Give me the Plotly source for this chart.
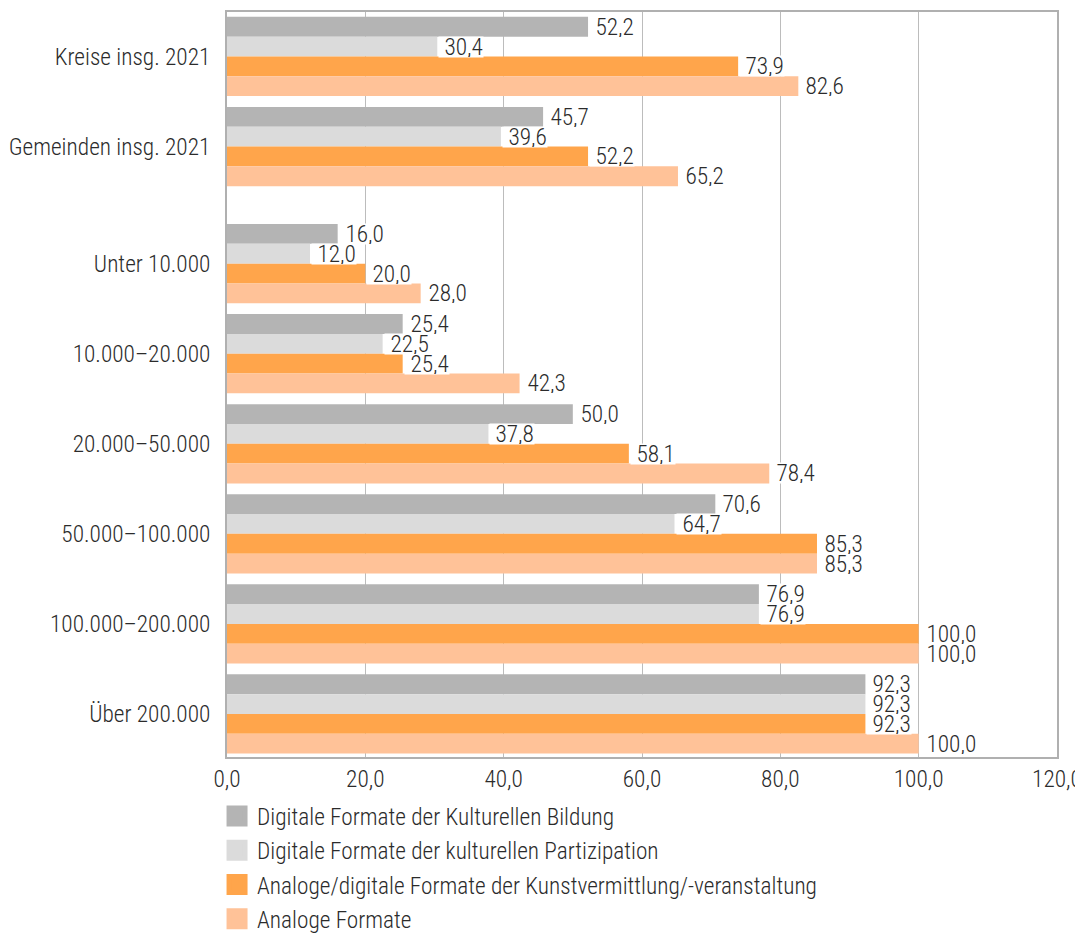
import plotly.graph_objects as go

categories = ["Kreise insg. 2021", "Gemeinden insg. 2021", "Unter 10.000", "10.000–20.000",
              "20.000–50.000", "50.000–100.000", "100.000–200.000", "Über 200.000"]
series_names = ["Digitale Formate der Kulturellen Bildung",
                "Digitale Formate der kulturellen Partizipation",
                "Analoge/digitale Formate der Kunstvermittlung/-veranstaltung",
                "Analoge Formate"]
digital_bildung = [52.2, 45.7, 16.0, 25.4, 50.0, 70.6, 76.9, 92.3]
digital_partizipation = [30.4, 39.6, 12.0, 22.5, 37.8, 64.7, 76.9, 92.3]
analog_digital = [73.9, 52.2, 20.0, 25.4, 58.1, 85.3, 100.0, 92.3]
analog = [82.6, 65.2, 28.0, 42.3, 78.4, 85.3, 100.0, 100.0]
x_ticks = [0, 20, 40, 60, 80, 100, 120]
x_tick_labels = ["0,0", "20,0", "40,0", "60,0", "80,0", "100,0", "120,0"]

colors = ["#b4b4b4", "#dbdbdb", "#ffa54b", "#ffc298"]
series = [digital_bildung, digital_partizipation, analog_digital, analog]

FONT = "Roboto Condensed"
FS = 23.3
W = 300
TXT = "#2b2b2b"

# category positions: extra gap after the two totals
gap = 0.3
ypos = [i if i < 2 else i + gap for i in range(len(categories))]

bar_w = 0.22
offsets = [-1.5 * bar_w, -0.5 * bar_w, 0.5 * bar_w, 1.5 * bar_w]

fig = go.Figure()
for k, (name, vals, col, off) in enumerate(zip(series_names, series, colors, offsets)):
    fig.add_trace(go.Bar(
        y=[p + off for p in ypos], x=vals, orientation="h",
        width=bar_w, marker=dict(color=col, line=dict(width=0)),
        name=name, showlegend=False, hoverinfo="skip"))
    # legend proxy
    fig.add_trace(go.Scatter(
        x=[None], y=[None], mode="markers", name=name, legendgroup=f"g{k}",
        marker=dict(symbol="square", size=16, color=col, line=dict(color=col, width=5)),
        showlegend=True))

annotations = []
# lower series first so that upper labels sit on top
for vals, off in reversed(list(zip(series, offsets))):
    for p, v in zip(ypos, vals):
        annotations.append(dict(
            x=v, y=p + off, xref="x", yref="y",
            text="\u2005" + f"{v:.1f}".replace(".", ","), showarrow=False,
            xanchor="left", yanchor="middle", xshift=1, height=20, valign="middle",
            bgcolor="white", borderpad=0,
            font=dict(family=FONT, size=FS, weight=W, color=TXT)))

# the page body adds an 8px offset; size the figure to fit the window
fig.update_layout(
    width=1075, height=926,
    margin=dict(l=219, r=26, t=4, b=177, autoexpand=False),
    paper_bgcolor="white", plot_bgcolor="white",
    barmode="overlay",
    font=dict(family=FONT, size=FS, weight=W, color=TXT),
    annotations=annotations,
    legend=dict(orientation="v", x=-0.012, xanchor="left", y=-0.05, yanchor="top",
                font=dict(family=FONT, size=FS, weight=W, color=TXT),
                traceorder="grouped", tracegroupgap=1, itemsizing="trace", itemwidth=30),
    xaxis=dict(range=[0, 120], tickvals=x_ticks, ticktext=x_tick_labels,
               showgrid=True, gridcolor="#bcbcbc", gridwidth=1,
               showline=True, linecolor="#b0b0b0", linewidth=2, mirror=True,
               zeroline=False, ticks="", automargin=False,
               tickfont=dict(family=FONT, size=FS, weight=W, color=TXT)),
    yaxis=dict(range=[7.3 + 0.478, -0.494], tickvals=ypos, ticktext=categories,
               showgrid=False, showline=True, linecolor="#b0b0b0", linewidth=2, mirror=True,
               zeroline=False, ticks="", ticklabelstandoff=10, automargin=False,
               tickfont=dict(family=FONT, size=FS, weight=W, color=TXT)),
)

fig.write_html("out.html")
